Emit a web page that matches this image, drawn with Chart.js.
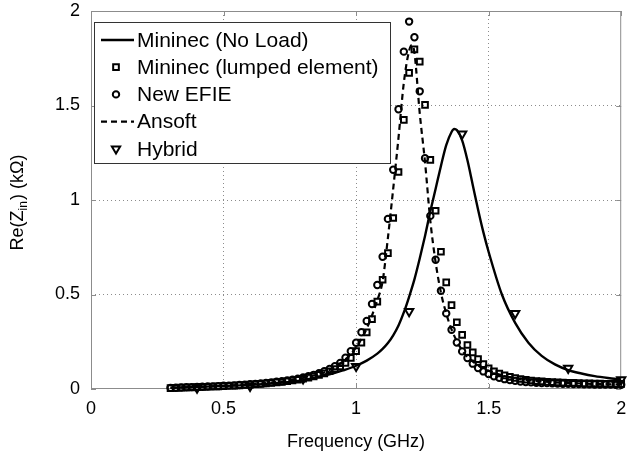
<!DOCTYPE html>
<html>
<head>
<meta charset="utf-8">
<script src="https://cdn.jsdelivr.net/npm/chart.js@4.4.0/dist/chart.umd.min.js"></script>
<style>
  html, body { margin: 0; padding: 0; background: #fff; }
  #wrap { width: 628px; height: 459px; }
</style>
</head>
<body>
<div id="wrap"><canvas id="zinChart" width="628" height="459"></canvas></div>
<script>
// frequency grid (GHz) shared by the two Mininec/EFIE marker series
const freqs = [
  0.30, 0.32, 0.34, 0.36, 0.38, 0.40, 0.42, 0.44, 0.46, 0.48,
  0.50, 0.52, 0.54, 0.56, 0.58, 0.60, 0.62, 0.64, 0.66, 0.68,
  0.70, 0.72, 0.74, 0.76, 0.78, 0.80, 0.82, 0.84, 0.86, 0.88,
  0.90, 0.92, 0.94, 0.96, 0.98, 1.00, 1.02, 1.04, 1.06, 1.08,
  1.10, 1.12, 1.14, 1.16, 1.18, 1.20, 1.22, 1.24, 1.26, 1.28,
  1.30, 1.32, 1.34, 1.36, 1.38, 1.40, 1.42, 1.44, 1.46, 1.48,
  1.50, 1.52, 1.54, 1.56, 1.58, 1.60, 1.62, 1.64, 1.66, 1.68,
  1.70, 1.72, 1.74, 1.76, 1.78, 1.80, 1.82, 1.84, 1.86, 1.88,
  1.90, 1.92, 1.94, 1.96, 1.98, 2.00
];

// Mininec (lumped element), kOhm
const lumpedRe = [
  0.005, 0.006, 0.007, 0.008, 0.009, 0.010, 0.011, 0.012, 0.013, 0.014,
  0.015, 0.017, 0.018, 0.019, 0.021, 0.023, 0.025, 0.027, 0.029, 0.032,
  0.035, 0.038, 0.041, 0.045, 0.049, 0.054, 0.060, 0.067, 0.075, 0.083,
  0.094, 0.106, 0.120, 0.138, 0.165, 0.200, 0.245, 0.300, 0.370, 0.462,
  0.578, 0.719, 0.905, 1.148, 1.424, 1.673, 1.797, 1.732, 1.503, 1.212,
  0.943, 0.726, 0.564, 0.444, 0.353, 0.286, 0.233, 0.194, 0.158, 0.132,
  0.110, 0.094, 0.082, 0.072, 0.064, 0.058, 0.053, 0.049, 0.045, 0.042,
  0.040, 0.038, 0.036, 0.035, 0.034, 0.033, 0.032, 0.031, 0.030, 0.030,
  0.029, 0.029, 0.028, 0.028, 0.027, 0.027
];

// New EFIE, kOhm
const efieRe = [
  0.006, 0.007, 0.008, 0.009, 0.010, 0.011, 0.012, 0.013, 0.014, 0.015,
  0.017, 0.018, 0.019, 0.021, 0.023, 0.025, 0.027, 0.029, 0.032, 0.035,
  0.038, 0.041, 0.045, 0.049, 0.054, 0.061, 0.068, 0.075, 0.083, 0.094,
  0.106, 0.120, 0.138, 0.165, 0.200, 0.245, 0.300, 0.360, 0.450, 0.550,
  0.700, 0.900, 1.160, 1.480, 1.785, 1.944, 1.861, 1.575, 1.221, 0.916,
  0.684, 0.520, 0.400, 0.313, 0.246, 0.199, 0.164, 0.134, 0.111, 0.093,
  0.079, 0.067, 0.059, 0.052, 0.047, 0.043, 0.040, 0.037, 0.035, 0.033,
  0.032, 0.031, 0.030, 0.029, 0.028, 0.027, 0.026, 0.026, 0.025, 0.025,
  0.024, 0.024, 0.023, 0.023, 0.022, 0.022
];

// Mininec (No Load) solid curve
const noLoadFreq = [0.30, 0.40, 0.50, 0.60, 0.70, 0.80, 0.90, 0.95, 1.00, 1.04,
  1.08, 1.10, 1.12, 1.14, 1.16, 1.18, 1.20, 1.22, 1.24, 1.26,
  1.28, 1.30, 1.32, 1.34, 1.36, 1.37, 1.38, 1.40, 1.42, 1.44,
  1.46, 1.48, 1.50, 1.55, 1.60, 1.65, 1.70, 1.75, 1.80, 1.85,
  1.90, 1.95, 2.00];
const noLoadRe = [0.007, 0.011, 0.016, 0.022, 0.031, 0.047, 0.077, 0.098, 0.123, 0.150,
  0.187, 0.212, 0.243, 0.284, 0.336, 0.405, 0.488, 0.580, 0.690, 0.810,
  0.940, 1.060, 1.180, 1.290, 1.360, 1.376, 1.370, 1.315, 1.210, 1.080,
  0.950, 0.830, 0.725, 0.500, 0.350, 0.245, 0.175, 0.130, 0.100, 0.082,
  0.068, 0.058, 0.050];

// Ansoft dashed curve
const ansoftFreq = [0.30, 0.40, 0.50, 0.60, 0.70, 0.80, 0.85, 0.90, 0.95, 1.00,
  1.04, 1.08, 1.10, 1.12, 1.14, 1.16, 1.18, 1.20, 1.21, 1.22,
  1.24, 1.26, 1.28, 1.30, 1.32, 1.34, 1.36, 1.40, 1.45, 1.50,
  1.60, 1.70, 1.80, 1.90, 2.00];
const ansoftRe = [0.006, 0.011, 0.017, 0.025, 0.037, 0.058, 0.075, 0.100, 0.145, 0.220,
  0.320, 0.470, 0.570, 0.800, 1.060, 1.330, 1.620, 1.790, 1.820, 1.780,
  1.460, 1.200, 0.890, 0.670, 0.510, 0.400, 0.315, 0.205, 0.135, 0.097,
  0.056, 0.040, 0.032, 0.027, 0.024];

// Hybrid markers
const hybridFreq = [0.4, 0.6, 0.8, 1.0, 1.2, 1.4, 1.6, 1.8, 2.0];
const hybridRe = [0.005, 0.015, 0.055, 0.120, 0.410, 1.350, 0.400, 0.110, 0.050];

const xTickLabels = ['0', '0.5', '1', '1.5', '2'];
const yTickLabels = ['0', '0.5', '1', '1.5', '2'];
const legendLabels = ['Mininec (No Load)', 'Mininec (lumped element)', 'New EFIE', 'Ansoft', 'Hybrid'];

const FONT = "'Liberation Sans', Arial, sans-serif";
const AXIS_GRAY = '#8c8c8c';

function pts(xs, ys) {
  return xs.map((f, i) => ({ x: f, y: ys[i] }));
}

const markerBase = {
  showLine: false,
  borderColor: '#000',
  backgroundColor: 'rgba(0,0,0,0)',
  pointBorderColor: '#000',
  pointBackgroundColor: 'rgba(0,0,0,0)',
  pointBorderWidth: 2,
  clip: false
};

const datasets = [
  {
    label: legendLabels[0],
    data: pts(noLoadFreq, noLoadRe),
    borderColor: '#000',
    borderWidth: 2.4,
    pointRadius: 0,
    cubicInterpolationMode: 'monotone',
    fill: false
  },
  Object.assign({}, markerBase, {
    label: legendLabels[1],
    data: pts(freqs, lumpedRe),
    pointStyle: 'rect',
    pointRadius: 4
  }),
  Object.assign({}, markerBase, {
    label: legendLabels[2],
    data: pts(freqs, efieRe),
    pointStyle: 'circle',
    pointRadius: 3.2
  }),
  {
    label: legendLabels[3],
    data: pts(ansoftFreq, ansoftRe),
    borderColor: '#000',
    borderWidth: 2.2,
    borderDash: [6, 4],
    pointRadius: 0,
    cubicInterpolationMode: 'monotone',
    fill: false
  },
  Object.assign({}, markerBase, {
    label: legendLabels[4],
    data: pts(hybridFreq, hybridRe),
    pointStyle: 'triangle',
    rotation: 180,
    pointRotation: 180,
    pointRadius: 4.8
  })
];

function marker(ctx, style, x, y, r, rot) {
  ctx.save();
  ctx.strokeStyle = '#000';
  ctx.fillStyle = 'rgba(0,0,0,0)';
  ctx.lineWidth = 2;
  Chart.helpers.drawPoint(ctx, { pointStyle: style, radius: r, rotation: rot || 0, borderWidth: 2 }, x, y);
  ctx.restore();
}

const framePlugin = {
  id: 'frame',
  beforeDatasetsDraw(chart) {
    const { ctx, chartArea: a, scales } = chart;
    ctx.save();
    ctx.strokeStyle = AXIS_GRAY;
    ctx.lineWidth = 1;
    ctx.strokeRect(a.left + 0.5, a.top + 0.5, a.right - a.left - 1, a.bottom - a.top - 1);
    ctx.beginPath();
    scales.x.ticks.forEach(t => {
      const px = Math.round(scales.x.getPixelForValue(t.value)) + 0.5;
      ctx.moveTo(px, a.bottom); ctx.lineTo(px, a.bottom - 5);
      ctx.moveTo(px, a.top); ctx.lineTo(px, a.top + 5);
    });
    scales.y.ticks.forEach(t => {
      const py = Math.round(scales.y.getPixelForValue(t.value)) + 0.5;
      ctx.moveTo(a.left, py); ctx.lineTo(a.left + 5, py);
      ctx.moveTo(a.right, py); ctx.lineTo(a.right - 5, py);
    });
    ctx.stroke();
    ctx.restore();
  },
  afterDraw(chart) {
    const { ctx, chartArea: a } = chart;
    ctx.save();
    ctx.fillStyle = '#000';

    // x title
    ctx.font = '18px ' + FONT;
    ctx.textAlign = 'center';
    ctx.textBaseline = 'alphabetic';
    ctx.fillText('Frequency (GHz)', (a.left + a.right) / 2, 447);

    // y title with subscript
    ctx.save();
    ctx.translate(23, (a.top + a.bottom) / 2 + 3);
    ctx.rotate(-Math.PI / 2);
    ctx.textAlign = 'left';
    const p1 = 'Re(Z', sub = 'in', p2 = ') (kΩ)';
    ctx.font = '18px ' + FONT;
    const w1 = ctx.measureText(p1).width, w3 = ctx.measureText(p2).width;
    ctx.font = '12px ' + FONT;
    const w2 = ctx.measureText(sub).width;
    let x0 = -(w1 + w2 + w3) / 2;
    ctx.font = '18px ' + FONT;
    ctx.fillText(p1, x0, 0);
    ctx.font = '12px ' + FONT;
    ctx.fillText(sub, x0 + w1, 4);
    ctx.font = '18px ' + FONT;
    ctx.fillText(p2, x0 + w1 + w2 + 1, 0);
    ctx.restore();

    // legend
    const bx = 94, by = 22, bw = 296, bh = 141;
    ctx.fillStyle = '#fff';
    ctx.fillRect(bx, by, bw, bh);
    ctx.strokeStyle = '#333';
    ctx.lineWidth = 1;
    ctx.strokeRect(bx + 0.5, by + 0.5, bw, bh);
    ctx.font = '21px ' + FONT;
    ctx.textAlign = 'left';
    ctx.textBaseline = 'middle';
    ctx.fillStyle = '#000';
    for (let i = 0; i < legendLabels.length; i++) {
      const ly = 40 + i * 27.2;
      const ds = datasets[i];
      if (ds.showLine === false) {
        marker(ctx, ds.pointStyle, 116, ly, ds.pointRadius, ds.pointRotation);
      } else {
        ctx.save();
        ctx.strokeStyle = '#000';
        ctx.lineWidth = ds.borderWidth;
        ctx.setLineDash(ds.borderDash || []);
        ctx.beginPath();
        ctx.moveTo(101, ly); ctx.lineTo(134, ly);
        ctx.stroke();
        ctx.restore();
      }
      ctx.fillText(legendLabels[i], 137, ly + 1);
    }
    ctx.restore();
  }
};

const gridColor = c => (c.tick && (c.tick.value === 0 || c.tick.value === 2)) ? 'rgba(0,0,0,0)' : 'rgba(0,0,0,0.45)';

new Chart(document.getElementById('zinChart'), {
  type: 'line',
  data: { datasets: datasets },
  options: {
    responsive: false,
    animation: false,
    events: [],
    layout: { padding: { left: 0, right: 4, top: 11, bottom: 0 } },
    plugins: { legend: { display: false }, tooltip: { enabled: false } },
    scales: {
      x: {
        type: 'linear', min: 0, max: 2,
        ticks: {
          stepSize: 0.5, autoSkip: false, maxRotation: 0, padding: 9,
          color: '#000', font: { family: FONT, size: 18 },
          callback: (v, i) => xTickLabels[i]
        },
        grid: { color: gridColor, drawTicks: false, lineWidth: 1 },
        border: { display: false, dash: [1, 3] },
        afterFit: s => { s.height = 70; s.paddingLeft = 0; s.paddingRight = 0; }
      },
      y: {
        type: 'linear', min: 0, max: 2,
        ticks: {
          stepSize: 0.5, padding: 11,
          color: '#000', font: { family: FONT, size: 18 },
          callback: (v, i) => yTickLabels[i]
        },
        grid: { color: gridColor, drawTicks: false, lineWidth: 1 },
        border: { display: false, dash: [1, 3] },
        afterFit: s => { s.width = 91; s.paddingTop = 0; s.paddingBottom = 0; }
      }
    }
  },
  plugins: [framePlugin]
});
</script>
</body>
</html>
